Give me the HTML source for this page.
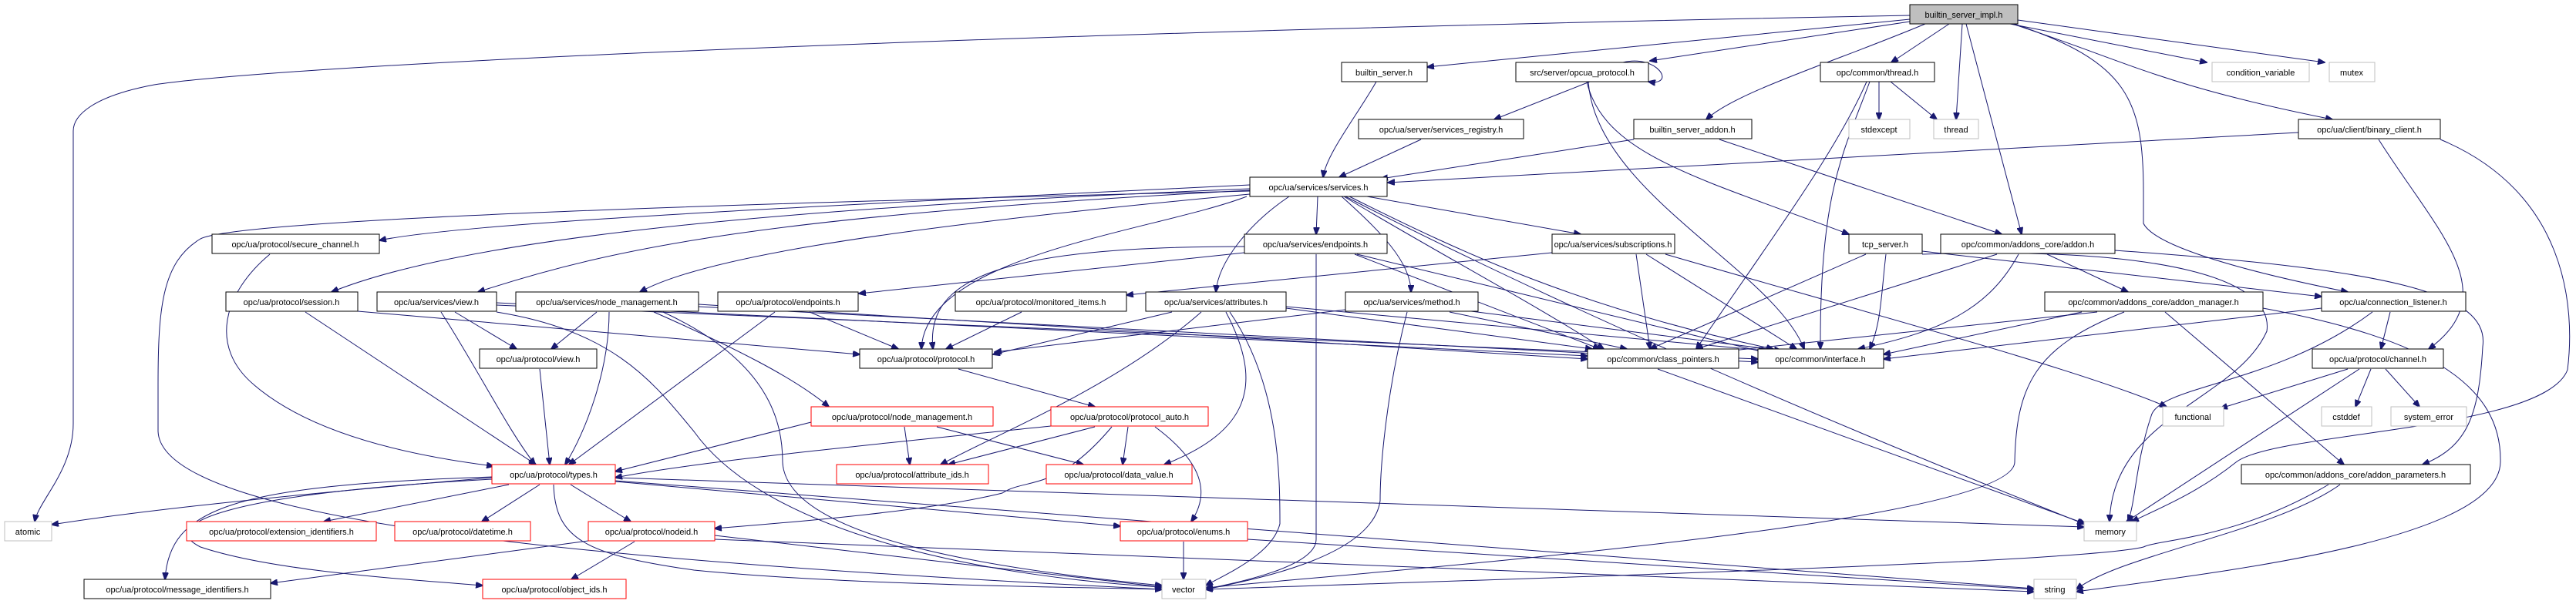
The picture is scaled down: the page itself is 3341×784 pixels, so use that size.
<!DOCTYPE html>
<html><head><meta charset="utf-8"><style>
html,body{margin:0;padding:0;background:#fff;}
svg{display:block;}
text{font-family:"Liberation Sans",Helvetica,Arial,sans-serif;font-size:11px;fill:#000;text-anchor:middle;}
.n rect{fill:#fff;stroke:#000;stroke-width:1;}
.r rect{fill:#fff;stroke:#f00;stroke-width:1;}
.g rect{fill:#fff;stroke:#bfbfbf;stroke-width:1;}
path{fill:none;stroke:#191970;stroke-width:1;marker-end:url(#a);}
</style></head><body>
<svg width="3341" height="784" viewBox="0 0 3341 784" xmlns="http://www.w3.org/2000/svg">
<defs><marker id="a" markerWidth="10" markerHeight="8" refX="9" refY="4" orient="auto" markerUnits="userSpaceOnUse"><polygon points="0,0 10,4 0,8" fill="#191970" stroke="#191970"/></marker></defs>
<g>
<!-- edges from builtin_server_impl.h -->
<path d="M2477,20 C1400,40 400,80 200,110 C120,125 95,150 95,170 L95,550 C95,610 50,650 45,677"/>
<path d="M2477,25 L1851,87"/>
<path d="M2477,28 L2140,79"/>
<path d="M2497,31 C2380,80 2250,120 2213,155"/>
<path d="M2528,31 L2453,81"/>
<path d="M2545,31 L2537,155"/>
<path d="M2550,31 L2622,304"/>
<path d="M2607,31 L2862,81"/>
<path d="M2617,26 L3015,81"/>
<path d="M2610,31 C2760,80 2800,110 3025,155"/>
<path d="M2612,31 C2760,80 2780,130 2780,250 L2780,290 C2800,330 3000,370 3045,379"/>
<!-- opcua_protocol -->
<path d="M2105,81 C2150,70 2175,112 2138,106"/>
<path d="M2062,106 L1938,155"/>
<path d="M2058,106 C2080,200 2200,230 2398,304"/>
<path d="M2060,106 C2070,250 2300,350 2340,453"/>
<path d="M1785,106 C1760,150 1720,200 1716,230"/>
<path d="M1843,181 L1737,230"/>
<path d="M2119,181 L1791,232"/>
<path d="M2230,181 L2596,304"/>
<path d="M2981,172 L1800,237"/>
<path d="M3085,181 C3160,300 3250,380 3150,453"/>
<path d="M3165,181 C3330,250 3340,400 3330,480 C3300,560 2950,560 2900,600 C2850,640 2800,660 2765,677"/>
<path d="M2437,106 L2437,155"/>
<path d="M2452,106 L2512,155"/>
<path d="M2421,106 C2380,200 2290,320 2200,453"/>
<path d="M2425,106 C2390,200 2360,250 2361,453"/>
<!-- services.h -->
<path d="M1621,240 C1000,270 600,290 492,312"/>
<path d="M1621,245 C1000,270 600,310 430,379"/>
<path d="M1621,247 C1000,280 800,320 620,379"/>
<path d="M1621,252 C1100,300 900,340 830,379"/>
<path d="M1621,248 C700,270 300,290 260,310 C210,340 205,400 205,500 L205,560 C210,680 800,730 1507,765"/>
<path d="M1709,255 L1707,304"/>
<path d="M1672,255 C1620,290 1580,340 1577,379"/>
<path d="M1740,255 C1790,300 1830,340 1830,379"/>
<path d="M1773,255 L2050,304"/>
<path d="M1617,255 C1500,300 1200,330 1195,453"/>
<path d="M1743,255 C1850,320 2000,400 2080,453"/>
<path d="M1750,255 C1900,330 2050,400 2300,453"/>
<path d="M1745,255 C1950,360 2250,500 2703,680"/>
<!-- services/endpoints -->
<path d="M1614,328 L1114,381"/>
<path d="M1614,320 C1300,320 1200,360 1210,453"/>
<path d="M1707,330 L1707,700 C1707,740 1580,760 1564,765"/>
<path d="M1757,330 L2075,453"/>
<path d="M1760,330 L2300,460"/>
<!-- subscriptions -->
<path d="M2013,328 L1461,383"/>
<path d="M2122,330 L2140,453"/>
<path d="M2135,330 L2330,453"/>
<path d="M2160,330 C2400,400 2700,480 2810,528"/>
<path d="M1325,405 L1227,453"/>
<!-- attributes -->
<path d="M1520,405 L1288,460"/>
<path d="M1558,405 C1450,500 1300,560 1220,603"/>
<path d="M1590,405 C1640,500 1620,560 1510,603"/>
<path d="M1595,405 C1660,500 1660,620 1660,680 C1650,720 1590,745 1564,760"/>
<path d="M1668,400 L2065,453"/>
<path d="M1668,398 L2290,455"/>
<!-- method -->
<path d="M1745,402 L1290,457"/>
<path d="M1825,405 C1800,500 1790,600 1790,650 C1780,720 1640,750 1564,765"/>
<path d="M1880,405 L2110,453"/>
<path d="M1900,403 L2310,455"/>
<!-- services/view -->
<path d="M572,405 C620,480 660,560 694,603"/>
<path d="M590,405 L670,453"/>
<path d="M644,393 L2059,462"/>
<path d="M644,396 L2280,466"/>
<path d="M644,405 C800,430 850,500 900,560 C1000,700 1300,750 1507,762"/>
<!-- session, secure channel -->
<path d="M396,405 L695,603"/>
<path d="M464,404 L1115,460"/>
<path d="M350,330 C290,380 270,450 330,500 C400,560 520,590 640,605"/>
<!-- services/node_management -->
<path d="M774,405 L715,453"/>
<path d="M790,405 C790,480 760,560 733,603"/>
<path d="M848,405 C950,450 1030,490 1075,528"/>
<path d="M906,395 L2059,466"/>
<path d="M906,398 L2280,470"/>
<path d="M860,405 C1000,470 1015,550 1015,600 C1020,700 1300,740 1507,760"/>
<!-- protocol/endpoints -->
<path d="M1005,405 L738,603"/>
<path d="M1050,405 L1165,453"/>
<path d="M700,479 L713,603"/>
<path d="M1243,479 L1420,528"/>
<!-- protocol node_management -->
<path d="M1052,548 L798,612"/>
<path d="M1173,554 L1180,603"/>
<path d="M1215,554 L1405,603"/>
<!-- protocol_auto -->
<path d="M1363,553 C1100,580 900,600 798,620"/>
<path d="M1420,554 L1230,603"/>
<path d="M1463,554 L1456,603"/>
<path d="M1498,554 C1560,600 1570,640 1545,677"/>
<path d="M1442,554 C1370,640 1330,620 1300,640 C1200,665 1000,680 927,686"/>
<!-- types.h -->
<path d="M638,620 C400,640 200,660 67,681"/>
<path d="M660,629 L420,677"/>
<path d="M700,629 L625,677"/>
<path d="M740,629 L818,677"/>
<path d="M638,619 C300,630 220,660 214,752"/>
<path d="M638,622 C300,640 200,680 260,710 C350,740 500,750 626,760"/>
<path d="M798,625 L1453,683"/>
<path d="M798,620 L2703,684"/>
<path d="M798,624 L2638,764"/>
<path d="M718,629 C720,700 760,720 900,740 C1100,760 1400,762 1507,765"/>
<!-- nodeid, enums -->
<path d="M763,702 L351,757"/>
<path d="M823,703 L741,752"/>
<path d="M927,695 L1507,762"/>
<path d="M927,700 L2638,768"/>
<path d="M1535,703 L1535,752"/>
<path d="M1618,700 L2638,765"/>
<path d="M2150,479 L2705,680"/>
<!-- tcp_server -->
<path d="M2420,330 L2140,453"/>
<path d="M2446,330 C2440,380 2440,420 2425,453"/>
<path d="M2493,326 L3011,385"/>
<path d="M2493,330 C2800,320 2950,360 2940,430 C2900,520 2740,540 2736,677"/>
<!-- addon.h -->
<path d="M2590,330 L2200,453"/>
<path d="M2618,330 C2580,400 2520,430 2410,453"/>
<path d="M2655,330 L2760,379"/>
<path d="M2743,325 C3100,350 3230,380 3220,450 C3215,540 3200,580 3142,603"/>
<!-- addon_manager -->
<path d="M2720,405 L2200,460"/>
<path d="M2700,405 L2443,460"/>
<path d="M2755,405 C2640,450 2615,500 2613,600 C2610,680 1800,740 1564,763"/>
<path d="M2808,405 L3040,603"/>
<path d="M2935,400 C3150,440 3245,500 3243,600 C3240,700 2900,740 2693,768"/>
<!-- connection_listener -->
<path d="M3011,400 L2443,466"/>
<path d="M3100,405 L3088,453"/>
<path d="M3077,405 C2950,500 2800,500 2790,540 C2770,600 2770,650 2760,677"/>
<!-- channel -->
<path d="M3045,479 L2880,530"/>
<path d="M3075,479 L3055,528"/>
<path d="M3094,479 L3138,528"/>
<path d="M3060,479 L2758,677"/>
<!-- addon_parameters -->
<path d="M3020,629 C2900,700 2800,700 2780,710 C2700,730 2000,750 1564,765"/>
<path d="M3035,629 C2950,690 2750,720 2693,765"/>
</g>
<g>
<g class="n"><rect x="2477" y="6" width="140" height="25" style="fill:#bfbfbf"/><text x="2547" y="23">builtin_server_impl.h</text></g>
<g class="n"><rect x="1740" y="81" width="111" height="25"/><text x="1795" y="98">builtin_server.h</text></g>
<g class="n"><rect x="1966" y="81" width="172" height="25"/><text x="2052" y="98">src/server/opcua_protocol.h</text></g>
<g class="n"><rect x="2361" y="81" width="148" height="25"/><text x="2435" y="98">opc/common/thread.h</text></g>
<g class="g"><rect x="2869" y="81" width="126" height="25"/><text x="2932" y="98">condition_variable</text></g>
<g class="g"><rect x="3021" y="81" width="59" height="25"/><text x="3050" y="98">mutex</text></g>
<g class="n"><rect x="1762" y="155" width="214" height="25"/><text x="1869" y="172">opc/ua/server/services_registry.h</text></g>
<g class="n"><rect x="2119" y="155" width="153" height="25"/><text x="2195" y="172">builtin_server_addon.h</text></g>
<g class="g"><rect x="2398" y="155" width="79" height="25"/><text x="2437" y="172">stdexcept</text></g>
<g class="g"><rect x="2508" y="155" width="58" height="25"/><text x="2537" y="172">thread</text></g>
<g class="n"><rect x="2981" y="155" width="184" height="25"/><text x="3073" y="172">opc/ua/client/binary_client.h</text></g>
<g class="n"><rect x="1621" y="230" width="178" height="25"/><text x="1710" y="247">opc/ua/services/services.h</text></g>
<g class="n"><rect x="275" y="304" width="217" height="25"/><text x="383" y="321">opc/ua/protocol/secure_channel.h</text></g>
<g class="n"><rect x="1614" y="304" width="185" height="25"/><text x="1706" y="321">opc/ua/services/endpoints.h</text></g>
<g class="n"><rect x="2013" y="304" width="159" height="25"/><text x="2092" y="321">opc/ua/services/subscriptions.h</text></g>
<g class="n"><rect x="2398" y="304" width="95" height="25"/><text x="2445" y="321">tcp_server.h</text></g>
<g class="n"><rect x="2517" y="304" width="226" height="25"/><text x="2630" y="321">opc/common/addons_core/addon.h</text></g>
<g class="n"><rect x="293" y="379" width="171" height="25"/><text x="378" y="396">opc/ua/protocol/session.h</text></g>
<g class="n"><rect x="489" y="379" width="155" height="25"/><text x="566" y="396">opc/ua/services/view.h</text></g>
<g class="n"><rect x="669" y="379" width="237" height="25"/><text x="787" y="396">opc/ua/services/node_management.h</text></g>
<g class="n"><rect x="931" y="379" width="182" height="25"/><text x="1022" y="396">opc/ua/protocol/endpoints.h</text></g>
<g class="n"><rect x="1239" y="379" width="222" height="25"/><text x="1350" y="396">opc/ua/protocol/monitored_items.h</text></g>
<g class="n"><rect x="1486" y="379" width="182" height="25"/><text x="1577" y="396">opc/ua/services/attributes.h</text></g>
<g class="n"><rect x="1745" y="379" width="172" height="25"/><text x="1831" y="396">opc/ua/services/method.h</text></g>
<g class="n"><rect x="2652" y="379" width="283" height="25"/><text x="2793" y="396">opc/common/addons_core/addon_manager.h</text></g>
<g class="n"><rect x="3011" y="379" width="187" height="25"/><text x="3104" y="396">opc/ua/connection_listener.h</text></g>
<g class="n"><rect x="622" y="453" width="152" height="25"/><text x="698" y="470">opc/ua/protocol/view.h</text></g>
<g class="n"><rect x="1115" y="453" width="172" height="25"/><text x="1201" y="470">opc/ua/protocol/protocol.h</text></g>
<g class="n"><rect x="2059" y="453" width="196" height="25"/><text x="2157" y="470">opc/common/class_pointers.h</text></g>
<g class="n"><rect x="2280" y="453" width="163" height="25"/><text x="2361" y="470">opc/common/interface.h</text></g>
<g class="n"><rect x="2999" y="453" width="170" height="25"/><text x="3084" y="470">opc/ua/protocol/channel.h</text></g>
<g class="r"><rect x="1052" y="528" width="236" height="25"/><text x="1170" y="545">opc/ua/protocol/node_management.h</text></g>
<g class="r"><rect x="1363" y="528" width="204" height="25"/><text x="1465" y="545">opc/ua/protocol/protocol_auto.h</text></g>
<g class="g"><rect x="2805" y="528" width="79" height="25"/><text x="2844" y="545">functional</text></g>
<g class="g"><rect x="3011" y="528" width="65" height="25"/><text x="3043" y="545">cstddef</text></g>
<g class="g"><rect x="3101" y="528" width="98" height="25"/><text x="3150" y="545">system_error</text></g>
<g class="r"><rect x="638" y="603" width="160" height="25"/><text x="718" y="620">opc/ua/protocol/types.h</text></g>
<g class="r"><rect x="1085" y="603" width="197" height="25"/><text x="1183" y="620">opc/ua/protocol/attribute_ids.h</text></g>
<g class="r"><rect x="1357" y="603" width="189" height="25"/><text x="1451" y="620">opc/ua/protocol/data_value.h</text></g>
<g class="n"><rect x="2907" y="603" width="297" height="25"/><text x="3055" y="620">opc/common/addons_core/addon_parameters.h</text></g>
<g class="g"><rect x="6" y="677" width="61" height="25"/><text x="36" y="694">atomic</text></g>
<g class="r"><rect x="242" y="677" width="246" height="25"/><text x="365" y="694">opc/ua/protocol/extension_identifiers.h</text></g>
<g class="r"><rect x="512" y="677" width="176" height="25"/><text x="600" y="694">opc/ua/protocol/datetime.h</text></g>
<g class="r"><rect x="763" y="677" width="164" height="25"/><text x="845" y="694">opc/ua/protocol/nodeid.h</text></g>
<g class="r"><rect x="1453" y="677" width="165" height="25"/><text x="1535" y="694">opc/ua/protocol/enums.h</text></g>
<g class="g"><rect x="2703" y="677" width="68" height="25"/><text x="2737" y="694">memory</text></g>
<g class="n"><rect x="109" y="752" width="242" height="25"/><text x="230" y="769">opc/ua/protocol/message_identifiers.h</text></g>
<g class="r"><rect x="626" y="752" width="186" height="25"/><text x="719" y="769">opc/ua/protocol/object_ids.h</text></g>
<g class="g"><rect x="1507" y="752" width="57" height="25"/><text x="1535" y="769">vector</text></g>
<g class="g"><rect x="2638" y="752" width="55" height="25"/><text x="2665" y="769">string</text></g>
</g>
</svg>
</body></html>
